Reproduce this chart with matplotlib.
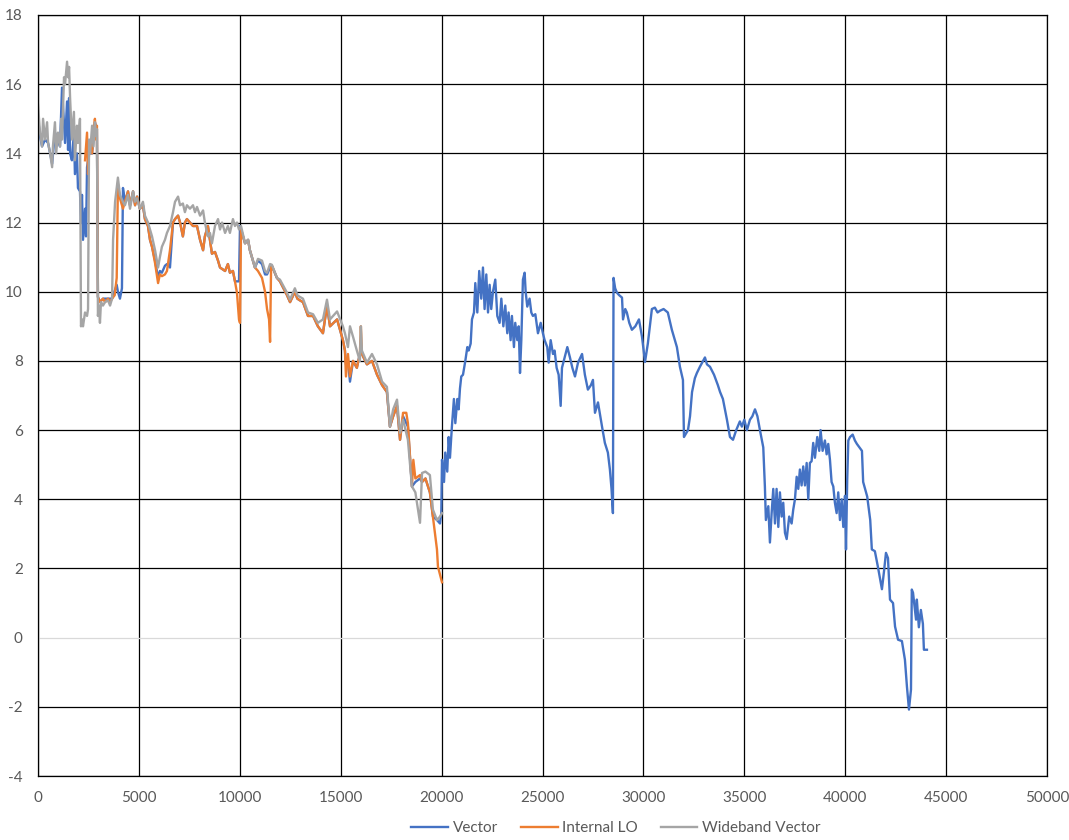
import matplotlib
matplotlib.use("Agg")
import matplotlib.pyplot as plt

# ---------------- data ----------------
vector_x = [0, 100, 200, 350, 500, 600, 700, 840, 990, 1090, 1190, 1290, 1340, 1440, 1490, 1540, 1590,
            1680, 1780, 1830, 1930, 1980, 2080, 2130, 2180, 2230, 2330, 2380, 2430, 2530, 2680, 2820,
            2920, 2970, 3070, 3220, 3470, 3670, 3900, 3960, 4060, 4160, 4210, 4310, 4460, 4560, 4710,
            4810, 4910, 5050, 5200, 5300, 5450, 5550, 5650, 5800, 5950, 6040, 6140, 6290, 6390, 6540,
            6690, 6790, 6940, 7040, 7180, 7280, 7380, 7530, 7680, 7880, 8030, 8180, 8270, 8420, 8620,
            8770, 8920, 9020, 9270, 9410, 9510, 9660, 9760, 9860, 9960, 10010, 10060, 10260, 10410,
            10500, 10750, 10900, 11100, 11250, 11350, 11500, 11590, 11840, 11990, 12340, 12490, 12730,
            12850, 12980, 13130, 13380, 13630, 13870, 14120, 14320, 14470, 14820, 15110, 15210, 15260,
            15360, 15460, 15610, 15800, 15950, 16050, 16300, 16550, 16800, 17050, 17290, 17440, 17600,
            17790, 17940, 18090, 18330, 18530, 18700, 18930, 19030, 19200, 19420, 19570, 19770, 19920,
            19985,
            20020, 20120, 20180, 20280, 20350, 20415, 20510, 20610, 20680, 20780, 20845, 20910, 20975,
            21060, 21175, 21275, 21340, 21440, 21505, 21605, 21670, 21770, 21865, 21965, 22050, 22130,
            22215, 22300, 22380, 22460, 22545, 22660, 22760, 22875, 22960, 23060, 23155, 23255, 23320,
            23420, 23485, 23585, 23650, 23750, 23820, 23885, 23950, 24030, 24115, 24165, 24245, 24360,
            24445, 24525, 24645, 24775, 24910, 25020, 25105, 25235, 25305, 25405, 25520, 25600, 25700,
            25800, 25900, 25965, 26100, 26230,
            26360, 26480, 26610, 26760, 26960, 27100, 27250, 27400, 27500, 27600, 27750, 27950, 28090,
            28240, 28340, 28420, 28490, 28520, 28600, 28690, 28800, 28940, 28990, 29100, 29180, 29300,
            29430, 29600, 29780, 29930, 30080, 30220, 30420, 30570, 30700, 30820, 31000, 31210, 31410,
            31660, 31810, 31960, 32010, 32210, 32310, 32410, 32550, 32650, 32800, 33050, 33150, 33300,
            33500, 33690, 33800, 33940, 34140, 34290, 34440, 34600, 34780, 34880, 35000, 35130, 35280,
            35400, 35530, 35650,
            35775, 35940, 36020, 36070, 36190, 36270, 36355, 36435, 36520, 36600, 36685, 36765, 36850,
            36930, 37015, 37100, 37225, 37345, 37425, 37510, 37595, 37675, 37755, 37840, 37920, 38005,
            38090, 38170, 38250, 38335, 38415, 38500, 38615, 38715, 38780, 38880, 38995, 39080, 39160,
            39245, 39325, 39410, 39490, 39575, 39655, 39740, 39825, 39905, 39990, 40040, 40100, 40155,
            40240, 40370, 40480,
            40580, 40830, 40890, 41090, 41240, 41320, 41470, 41620, 41820, 41920, 42020, 42120, 42220,
            42370, 42470, 42620, 42810, 42960, 43060, 43160, 43260, 43300, 43360, 43510, 43550, 43650,
            43750, 43850, 43900, 44050]
vector_y = [15.0, 14.5, 14.2, 14.4, 14.3, 14.0, 13.7, 14.6, 14.4, 14.2, 15.9, 14.8, 14.3, 15.5, 14.1, 15.6, 14.0,
            13.8, 14.6, 13.4, 14.0, 13.0, 12.9, 12.0, 12.8, 11.5, 12.4, 11.6, 13.6, 14.0, 14.0, 14.9,
            14.7, 9.85, 9.7, 9.8, 9.8, 9.8, 10.2, 10.0, 9.8, 10.1, 13.0, 12.6, 12.9, 12.5, 12.9,
            12.5, 12.75, 12.4, 12.5, 12.1, 11.9, 11.5, 11.3, 10.9, 10.4, 10.6, 10.55, 10.75, 10.8, 10.7,
            12.0, 12.1, 12.2, 12.0, 11.6, 12.0, 12.1, 12.0, 11.9, 11.9, 11.5, 11.2, 11.6, 11.9, 11.1,
            11.15, 10.9, 10.7, 10.6, 10.8, 10.55, 10.6, 10.3, 10.3, 10.3, 11.9, 11.8, 11.4, 11.5,
            11.2, 10.7, 10.9, 10.8, 10.5, 10.5, 10.7, 10.75, 10.4, 10.3, 9.9, 9.7, 10.0,
            9.8, 9.75, 9.7, 9.3, 9.3, 9.0, 8.8, 9.6, 9.0, 9.2, 8.6, 8.3, 7.9,
            8.0, 7.4, 8.0, 7.8, 8.2, 8.2, 7.9, 8.0, 7.6, 7.3, 7.1, 6.1, 6.4,
            6.7, 5.72, 6.4, 6.1, 4.37, 4.5, 4.6, 4.5, 4.6, 4.2, 3.5, 3.4, 3.3,
            3.6,
            5.14, 4.5, 5.35, 4.8, 5.8, 5.2, 6.1, 6.9, 6.2, 6.9, 6.6, 7.2, 7.55,
            7.6, 8.0, 8.4, 8.3, 8.5, 9.2, 9.4, 10.25, 9.4, 10.6, 9.8, 10.7, 9.5,
            10.5, 9.4, 10.2, 9.5, 10.0, 10.35, 9.3, 9.1, 9.8, 9.0, 9.6, 8.8, 9.4,
            8.6, 9.3, 8.4, 9.1, 8.6, 9.0, 7.65, 8.6, 10.35, 10.55, 10.0, 9.57, 9.8,
            9.4, 9.3, 9.35, 8.8, 9.1, 8.8, 8.6, 8.4, 7.95, 8.6, 8.2, 8.3, 7.8,
            7.6, 6.7, 7.8, 8.1, 8.4,
            8.1, 7.8, 7.55, 7.95, 8.2, 7.6, 7.17, 7.3, 7.45, 6.5, 6.8, 6.1, 5.63,
            5.35, 4.86, 4.3, 3.6, 10.4, 10.1, 9.97, 9.9, 9.83, 9.2, 9.5, 9.4, 9.1,
            8.9, 9.0, 9.2, 8.7, 7.97, 8.5, 9.5, 9.54, 9.4, 9.45, 9.5, 9.4, 8.9,
            8.4, 7.83, 7.45, 5.8, 6.0, 6.4, 7.1, 7.5, 7.65, 7.83, 8.1, 7.9, 7.83,
            7.6, 7.3, 7.1, 6.9, 6.3, 5.8, 5.72, 6.0, 6.25, 6.1, 6.3, 6.0, 6.3,
            6.4, 6.6, 6.4,
            6.0, 5.5, 4.37, 3.4, 3.8, 2.75, 3.6, 4.3, 3.3, 4.3, 3.2, 4.2, 3.5,
            3.9, 3.03, 2.85, 3.5, 3.3, 3.7, 4.0, 4.65, 4.3, 4.86, 4.4, 4.95, 4.4,
            5.05, 4.0, 5.05, 5.1, 5.63, 5.2, 5.8, 5.4, 6.0, 5.4, 5.7, 5.3, 5.6,
            5.14, 4.5, 4.37, 3.9, 3.6, 4.2, 3.4, 4.0, 3.2, 4.1, 2.55, 4.57, 5.7,
            5.8, 5.87, 5.7,
            5.6, 5.4, 4.5, 4.08, 3.4, 2.55, 2.5, 2.05, 1.4, 1.9, 2.45, 2.3, 1.1,
            1.0, 0.32, -0.06, -0.1, -0.64, -1.42, -2.08, -1.5, 1.39, 1.3, 0.52, 1.1, 0.3,
            0.8, 0.4, -0.35, -0.35]

internal_lo_x = [2330, 2430, 2480, 2530, 2580, 2680, 2750, 2820, 2880, 2920, 2970, 3070, 3220, 3320, 3470,
                 3570, 3670, 3800, 3900, 3960, 4060, 4210, 4310, 4460, 4560, 4710, 4810, 4910, 5050, 5200,
                 5300, 5450, 5550, 5650, 5800, 5950, 6040, 6140, 6290, 6390, 6540, 6690, 6790, 6940, 7040,
                 7180, 7280, 7380, 7530, 7680, 7880, 8030, 8180, 8270, 8420, 8620, 8770, 8920, 9020, 9270,
                 9410, 9510, 9660, 9760, 9860, 9960, 10010, 10060, 10260, 10410, 10500, 10750, 10900, 11100,
                 11250, 11350, 11450, 11500, 11550, 11590, 11840, 11990, 12340, 12490, 12730, 12850, 12980,
                 13130, 13380, 13630, 13870, 14120, 14320, 14470, 14820, 15110, 15210, 15260, 15360, 15460,
                 15610, 15800, 15950, 16000, 16050, 16300, 16550, 16800, 17050, 17290, 17440, 17600, 17790,
                 17940, 18090, 18250, 18330, 18530, 18600, 18700, 18930, 19030, 19200, 19420, 19570, 19770,
                 19820, 20020]
internal_lo_y = [13.8, 14.6, 13.4, 14.0, 14.3, 14.0, 14.6, 15.0, 14.4, 14.8, 9.85, 9.7, 9.8, 9.7, 9.8,
                 9.7, 9.8, 9.9, 10.4, 13.1, 12.7, 12.4, 12.6, 12.9, 12.5, 12.9, 12.5, 12.75, 12.4, 12.5,
                 12.1, 11.9, 11.5, 11.3, 10.83, 10.25, 10.5, 10.45, 10.5, 10.6, 11.2, 12.0, 12.1, 12.2, 12.0,
                 11.6, 12.0, 12.1, 12.0, 11.9, 11.9, 11.5, 11.2, 11.6, 11.9, 11.1, 11.15, 10.9, 10.7, 10.6,
                 10.8, 10.55, 10.6, 10.3, 9.97, 9.2, 9.1, 11.8, 11.4, 11.5, 11.2, 10.7, 10.6, 10.4,
                 10.0, 9.5, 9.2, 8.55, 10.7, 10.75, 10.4, 10.3, 9.9, 9.7, 10.0, 9.8, 9.75,
                 9.7, 9.3, 9.3, 9.0, 8.8, 9.6, 9.0, 9.2, 8.6, 8.3, 7.55, 8.2, 7.55,
                 8.0, 7.8, 8.2, 9.0, 8.2, 7.9, 8.0, 7.6, 7.3, 7.1, 6.1, 6.4, 6.7,
                 5.72, 6.5, 6.5, 6.2, 4.37, 5.14, 4.6, 4.7, 4.5, 4.6, 4.2, 3.5, 2.55,
                 2.05, 1.6]

wideband_x = [0, 100, 200, 250, 350, 450, 500, 600, 700, 740, 840, 900, 990, 1090, 1150, 1190, 1290, 1340,
              1440, 1490, 1540, 1590, 1680, 1780, 1830, 1930, 1980, 2080, 2130, 2180, 2230, 2330, 2430,
              2480, 2530, 2580, 2680, 2750, 2820, 2880, 2920, 2970, 3020, 3070, 3120, 3220, 3320, 3470,
              3570, 3670, 3720, 3820, 3900, 3960, 4060, 4210, 4310, 4460, 4560, 4710, 4810, 4910, 5050,
              5200, 5300, 5450, 5550, 5650, 5800, 5950, 6040, 6140, 6290, 6390, 6540, 6690, 6790, 6940,
              7040, 7180, 7280, 7380, 7530, 7680, 7780, 7880, 8030, 8180, 8270, 8420, 8520, 8620, 8770,
              8920, 9020, 9120, 9270, 9410, 9510, 9660, 9760, 9860, 9960, 10060, 10260, 10410, 10500,
              10750, 10900, 11100, 11250, 11350, 11500, 11590, 11840, 11990, 12340, 12490, 12730, 12850,
              12980, 13130, 13380, 13630, 13870, 14120, 14320, 14470, 14820, 15110, 15210, 15360, 15460,
              15610, 15800, 15950, 16000, 16050, 16300, 16550, 16800, 17050, 17290, 17440, 17600, 17790,
              17940, 18090, 18330, 18530, 18700, 18930, 19030, 19200, 19420, 19570, 19770, 19920, 20020]
wideband_y = [15.4, 14.6, 14.2, 15.0, 14.4, 14.9, 14.3, 14.0, 13.6, 14.2, 14.9, 14.0, 14.6, 14.2, 15.0, 14.4, 16.2, 16.0,
              16.65, 16.2, 16.5, 15.6, 14.4, 15.2, 13.8, 14.8, 14.3, 15.0, 9.0, 9.2, 9.0, 9.4, 9.3,
              9.5, 14.4, 14.0, 14.8, 14.2, 14.9, 14.5, 14.7, 9.3, 9.6, 9.1, 9.7, 9.6, 9.7, 9.75,
              9.6, 9.8, 11.5, 12.6, 13.0, 13.3, 12.8, 12.6, 12.5, 12.8, 12.4, 12.9, 12.6, 12.7, 12.4,
              12.6, 12.2, 12.0, 11.8, 11.6, 11.2, 10.7, 11.0, 11.3, 11.5, 11.7, 11.9, 12.3, 12.6, 12.75,
              12.5, 12.55, 12.3, 12.5, 12.4, 12.5, 12.3, 12.45, 12.2, 12.35, 12.0, 11.6, 11.7, 11.4, 11.9,
              12.1, 11.8, 12.0, 11.7, 11.9, 11.7, 12.1, 11.9, 12.0, 11.8, 11.9, 11.4, 11.5, 11.2,
              10.7, 10.95, 10.9, 10.6, 10.55, 10.8, 10.78, 10.4, 10.35, 9.97, 9.77, 10.1, 9.9,
              9.85, 9.8, 9.4, 9.35, 9.1, 9.2, 9.77, 9.2, 9.43, 9.0, 8.8, 8.4, 9.0,
              8.7, 8.3, 8.0, 9.0, 8.3, 7.95, 8.2, 7.9, 7.4, 7.25, 6.1, 6.6, 6.88,
              5.92, 6.3, 5.72, 4.37, 4.2, 3.32, 4.76, 4.8, 4.7, 3.7, 3.4, 3.5, 3.6]

series_names = ["Vector", "Internal LO", "Wideband Vector"]
series_colors = ["#4472C4", "#ED7D31", "#A5A5A5"]
x_ticks = [0, 5000, 10000, 15000, 20000, 25000, 30000, 35000, 40000, 45000, 50000]
y_ticks = [-4, -2, 0, 2, 4, 6, 8, 10, 12, 14, 16, 18]

# ---------------- figure ----------------
plt.rcParams['font.family'] = ['Lato', 'DejaVu Sans']
plt.rcParams['axes.unicode_minus'] = False

W, H = 1069, 840
fig = plt.figure(figsize=(W / 100, H / 100), dpi=100)
ax = fig.add_axes([38 / W, (H - 776) / H, (1047 - 38) / W, (776 - 15) / H])

ax.set_xlim(0, 50000)
ax.set_ylim(-4, 18)
ax.set_xticks(x_ticks)
ax.set_yticks(y_ticks)

for xv in x_ticks:
    ax.axvline(xv, color="black", lw=0.9, zorder=0)
for yv in y_ticks:
    ax.axhline(yv, color="#D9D9D9" if yv == 0 else "black", lw=0.9, zorder=0)

for spine in ax.spines.values():
    spine.set_color("black")
    spine.set_linewidth(0.9)

ax.tick_params(length=0, pad=11, labelsize=11, labelcolor="#595959")

datasets = [(vector_x, vector_y), (internal_lo_x, internal_lo_y), (wideband_x, wideband_y)]
handles = []
for (xs, ys), name, col in zip(datasets, series_names, series_colors):
    h, = ax.plot(xs, ys, color=col, lw=1.7, label=name, zorder=2)
    handles.append(h)

leg = fig.legend(handles=handles, loc="center", bbox_to_anchor=(616 / W, (H - 828) / H), ncol=3,
                 frameon=False, handlelength=2.4, handletextpad=0.3, columnspacing=1.5,
                 prop={'family': ['Lato', 'DejaVu Sans'], 'size': 11})
for t in leg.get_texts():
    t.set_color("#595959")

fig.savefig("out.png", dpi=100)
